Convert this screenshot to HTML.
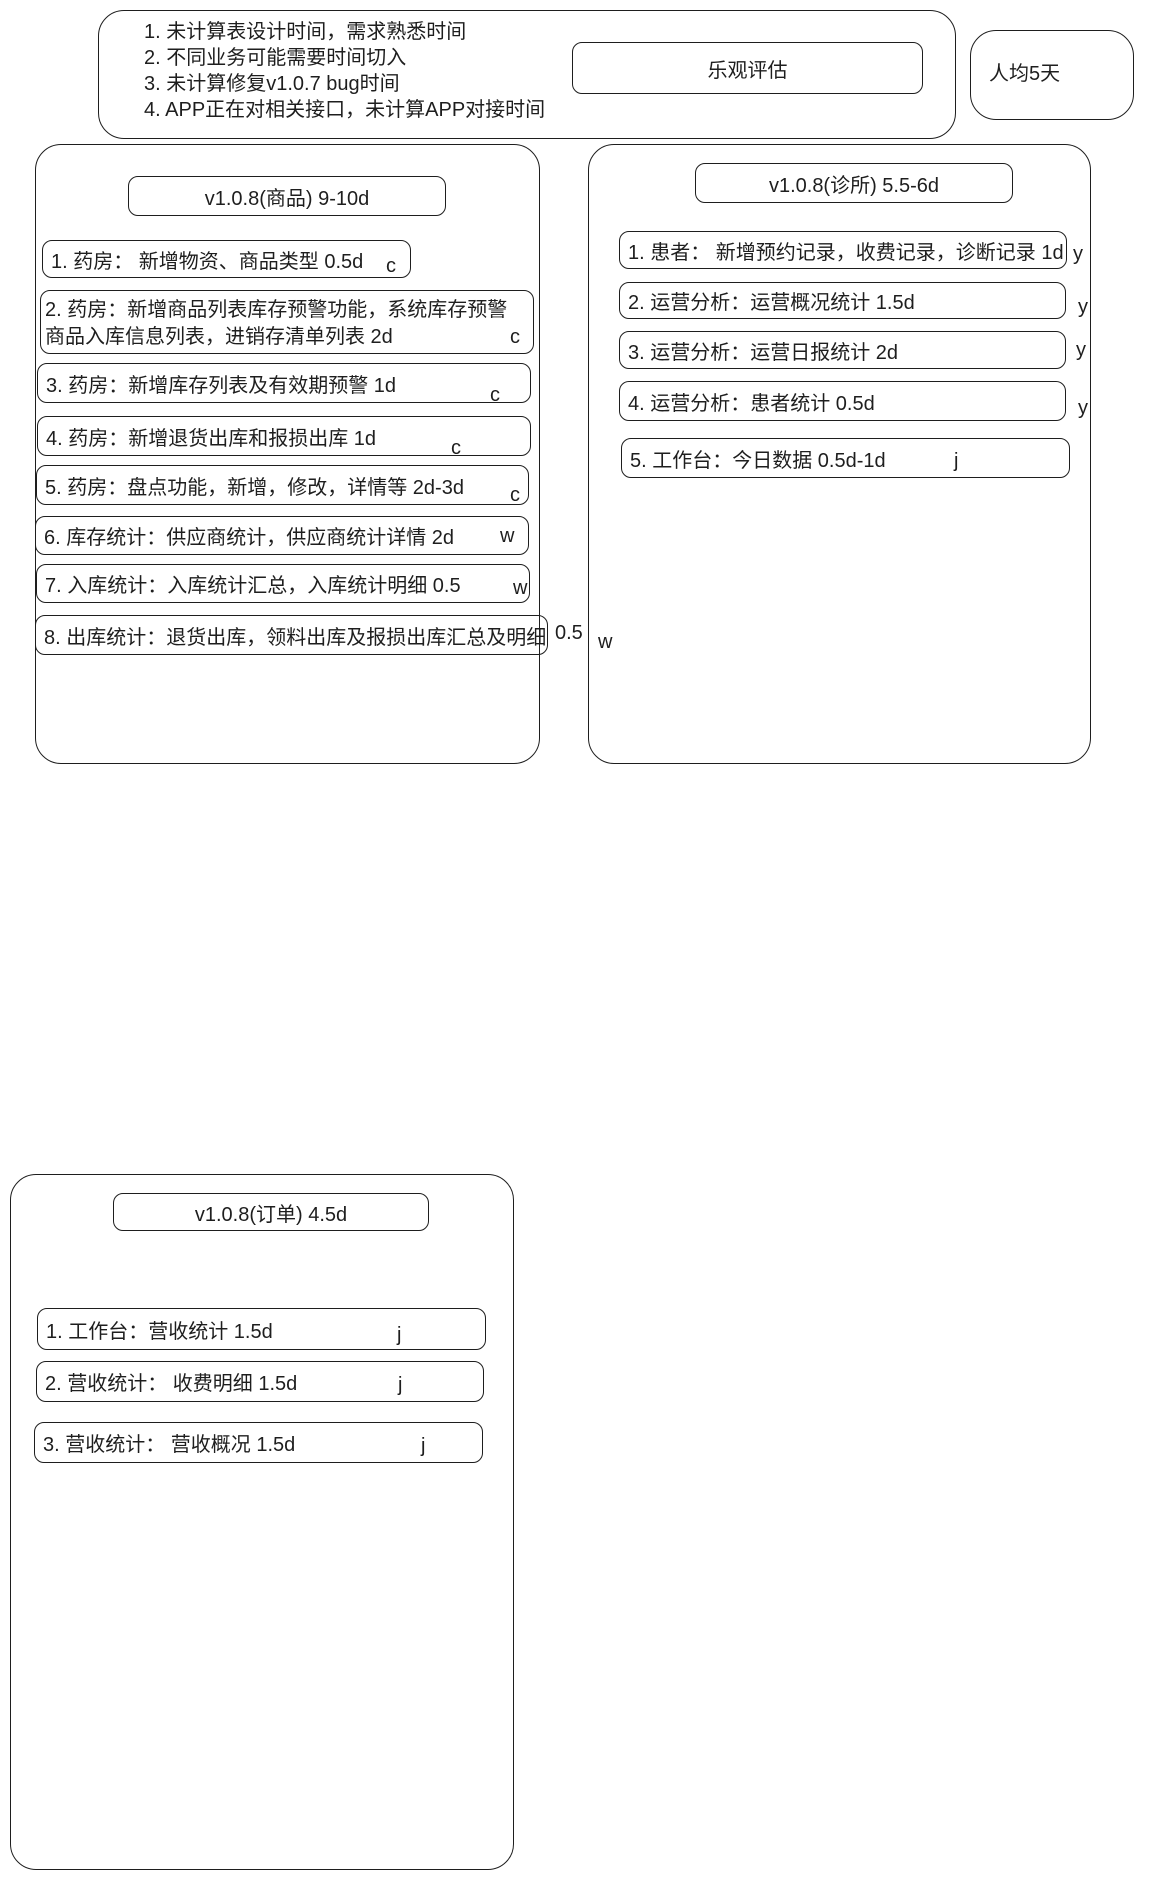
<!DOCTYPE html>
<html><head><meta charset="utf-8">
<style>
body{margin:0;width:1151px;height:1892px;background:#fff;position:relative;overflow:hidden;font-family:"Liberation Sans","Noto Sans CJK SC",sans-serif;color:#1e1e1e;}
.b{position:absolute;border:1.6px solid #1e1e1e;box-sizing:border-box;border-radius:10px;}
.big{border-radius:26px;}
.t{position:absolute;font-size:20px;white-space:nowrap;line-height:24px;}
.c{display:flex;align-items:center;justify-content:center;font-size:20px;}
.i{font-size:20px;padding-left:8px;box-sizing:border-box;display:flex;align-items:center;white-space:nowrap;}
</style></head><body>
<div class="b big" style="left:98px;top:10px;width:858px;height:129px;"></div>
<div class="t" style="left:144px;top:20px;">1. 未计算表设计时间，需求熟悉时间</div>
<div class="t" style="left:144px;top:46px;">2. 不同业务可能需要时间切入</div>
<div class="t" style="left:144px;top:72px;">3. 未计算修复v1.0.7 bug时间</div>
<div class="t" style="left:144px;top:98px;">4. APP正在对相关接口，未计算APP对接时间</div>
<div class="b c" style="left:572px;top:42px;width:351px;height:52px;">乐观评估</div>
<div class="b big" style="left:970px;top:30px;width:164px;height:90px;"></div>
<div class="t" style="left:989px;top:62px;">人均5天</div>

<div class="b big" style="left:35px;top:144px;width:505px;height:620px;"></div>
<div class="b c" style="left:128px;top:176px;width:318px;height:40px;">v1.0.8(商品) 9-10d</div>
<div class="b i" style="left:42px;top:240px;width:369px;height:38px;">1. 药房：&nbsp;新增物资、商品类型 0.5d</div>
<div class="t" style="left:386px;top:254px;">c</div>
<div class="b" style="left:40px;top:290px;width:494px;height:64px;"></div>
<div class="t" style="left:45px;top:298px;">2. 药房：新增商品列表库存预警功能，系统库存预警</div>
<div class="t" style="left:45px;top:325px;">商品入库信息列表，进销存清单列表 2d</div>
<div class="t" style="left:510px;top:325px;">c</div>
<div class="b i" style="left:37px;top:363px;width:494px;height:40px;">3. 药房：新增库存列表及有效期预警 1d</div>
<div class="t" style="left:490px;top:383px;">c</div>
<div class="b i" style="left:37px;top:416px;width:494px;height:40px;">4. 药房：新增退货出库和报损出库 1d</div>
<div class="t" style="left:451px;top:436px;">c</div>
<div class="b i" style="left:36px;top:465px;width:493px;height:40px;">5. 药房：盘点功能，新增，修改，详情等 2d-3d</div>
<div class="t" style="left:510px;top:483px;">c</div>
<div class="b i" style="left:35px;top:516px;width:494px;height:39px;">6. 库存统计：供应商统计，供应商统计详情 2d</div>
<div class="t" style="left:500px;top:524px;">w</div>
<div class="b i" style="left:36px;top:564px;width:494px;height:39px;">7. 入库统计：入库统计汇总，入库统计明细 0.5</div>
<div class="t" style="left:513px;top:576px;">w</div>
<div class="b i" style="left:35px;top:615px;width:513px;height:40px;">8. 出库统计：退货出库，领料出库及报损出库汇总及明细</div>
<div class="t" style="left:555px;top:621px;">0.5</div>
<div class="t" style="left:598px;top:630px;">w</div>

<div class="b big" style="left:588px;top:144px;width:503px;height:620px;"></div>
<div class="b c" style="left:695px;top:163px;width:318px;height:40px;">v1.0.8(诊所) 5.5-6d</div>
<div class="b i" style="left:619px;top:231px;width:448px;height:38px;">1. 患者：&nbsp;新增预约记录，收费记录，诊断记录 1d</div>
<div class="t" style="left:1073px;top:242px;">y</div>
<div class="b i" style="left:619px;top:282px;width:447px;height:37px;">2. 运营分析：运营概况统计 1.5d</div>
<div class="t" style="left:1078px;top:295px;">y</div>
<div class="b i" style="left:619px;top:331px;width:447px;height:38px;">3. 运营分析：运营日报统计 2d</div>
<div class="t" style="left:1076px;top:338px;">y</div>
<div class="b i" style="left:619px;top:381px;width:447px;height:40px;">4. 运营分析：患者统计 0.5d</div>
<div class="t" style="left:1078px;top:396px;">y</div>
<div class="b i" style="left:621px;top:438px;width:449px;height:40px;">5. 工作台：今日数据 0.5d-1d</div>
<div class="t" style="left:954px;top:449px;">j</div>

<div class="b big" style="left:10px;top:1174px;width:504px;height:696px;"></div>
<div class="b c" style="left:113px;top:1193px;width:316px;height:38px;">v1.0.8(订单) 4.5d</div>
<div class="b i" style="left:37px;top:1308px;width:449px;height:42px;">1. 工作台：营收统计 1.5d</div>
<div class="t" style="left:397px;top:1323px;">j</div>
<div class="b i" style="left:36px;top:1361px;width:448px;height:41px;">2. 营收统计：&nbsp;收费明细 1.5d</div>
<div class="t" style="left:398px;top:1373px;">j</div>
<div class="b i" style="left:34px;top:1422px;width:449px;height:41px;">3. 营收统计：&nbsp;营收概况 1.5d</div>
<div class="t" style="left:421px;top:1434px;">j</div>
</body></html>
